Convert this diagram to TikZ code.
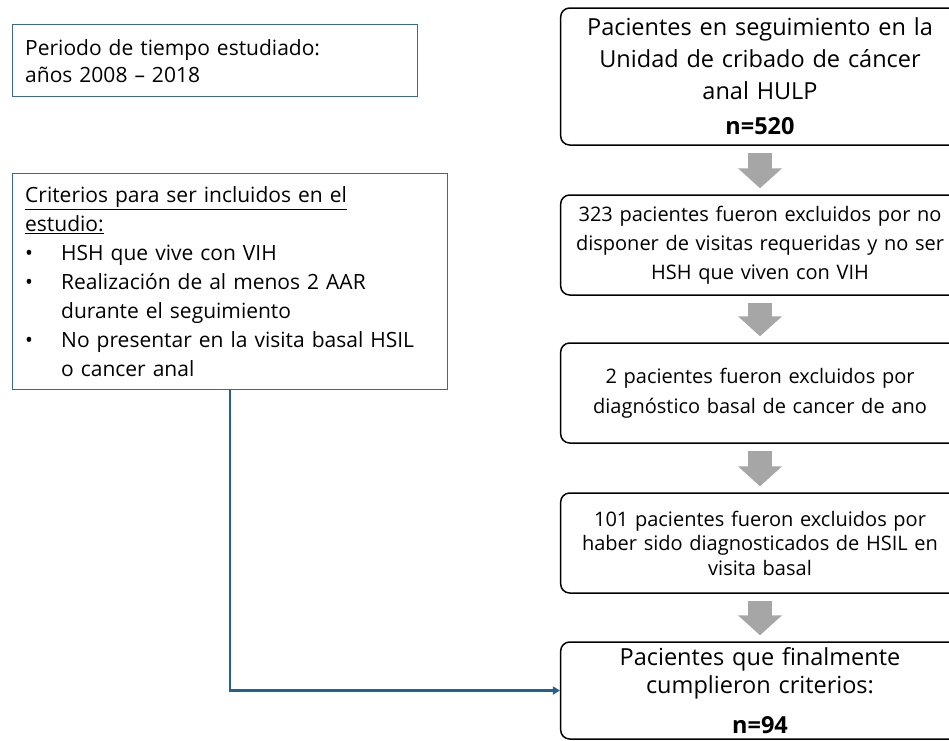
\documentclass[tikz,border=0pt]{standalone}
\usepackage{fontspec}
\setmainfont{Open Sans}
\usetikzlibrary{positioning,arrows.meta}
\definecolor{boxblue}{HTML}{3A6A92}
\definecolor{linkblue}{HTML}{24618E}
\definecolor{arrowgray}{HTML}{A6A6A6}
\newcommand{\critem}[1]{\makebox[36pt][l]{\textbullet}#1}
\newcommand{\crcont}[1]{\hspace*{36pt}#1}

\begin{document}
\begin{tikzpicture}[x=1pt,y=-1pt,
  infobox/.style={draw=boxblue, line width=1.4pt, anchor=north west, align=left,
    inner xsep=12pt, font=\fontsize{21}{27}\selectfont},
  stagebox/.style={draw=black, line width=1.5pt, rounded corners=9pt,
    minimum width=396pt, text width=392pt, align=center},
  flow/.style={draw=arrowgray, line width=24pt, -{Triangle[length=20pt,width=43pt]},
    shorten <=7pt, shorten >=6pt},
  link/.style={draw=linkblue, line width=2.2pt, -{Triangle[length=7pt,width=8pt]}}]
\useasboundingbox (0,0) rectangle (949,740);

% left column
\node[infobox, minimum width=405pt, minimum height=72pt, text width=380pt] (periodo) at (12,24)
  {Periodo de tiempo estudiado:\\años 2008 -- 2018};
\node[infobox, minimum width=435pt, minimum height=216pt, text width=410pt,
  font=\fontsize{21}{29}\selectfont] (criterios) at (12,173)
  {\underline{Criterios para ser incluidos en el}\\
   \underline{estudio:}\\
   \critem{HSH que vive con VIH}\\
   \critem{Realización de al menos 2 AAR}\\
   \crcont{durante el seguimiento}\\
   \critem{No presentar en la visita basal HSIL}\\
   \crcont{o cancer anal}};

% right column
\node[stagebox, minimum height=137pt, font=\fontsize{23.5}{32}\selectfont] (seguim) at (760,76.5)
  {Pacientes en seguimiento en la\\Unidad de cribado de cáncer\\anal HULP\\[3pt]\textbf{n=520}};
\node[stagebox, minimum height=100pt, font=\fontsize{20}{29}\selectfont] (excl1) at (760,245)
  {323 pacientes fueron excluidos por no\\disponer de visitas requeridas y no ser\\HSH que viven con VIH};
\node[stagebox, minimum height=100pt, font=\fontsize{20}{30}\selectfont] (excl2) at (760,393)
  {2 pacientes fueron excluidos por\\diagnóstico basal de cancer de ano};
\node[stagebox, minimum height=100pt, font=\fontsize{20}{24.5}\selectfont] (excl3) at (760,543)
  {101 pacientes fueron excluidos por\\haber sido diagnosticados de HSIL en\\visita basal};
\node[stagebox, minimum height=97pt, font=\fontsize{23.5}{28}\selectfont] (final) at (760,690.5)
  {Pacientes que finalmente\\cumplieron criterios:\\[12pt]\textbf{n=94}};

\draw[flow] (seguim) -- (excl1);
\draw[flow] (excl1) -- (excl2);
\draw[flow] (excl2) -- (excl3);
\draw[flow] (excl3) -- (final);

\draw[link] (criterios.south) |- (final.west);
\end{tikzpicture}
\end{document}
